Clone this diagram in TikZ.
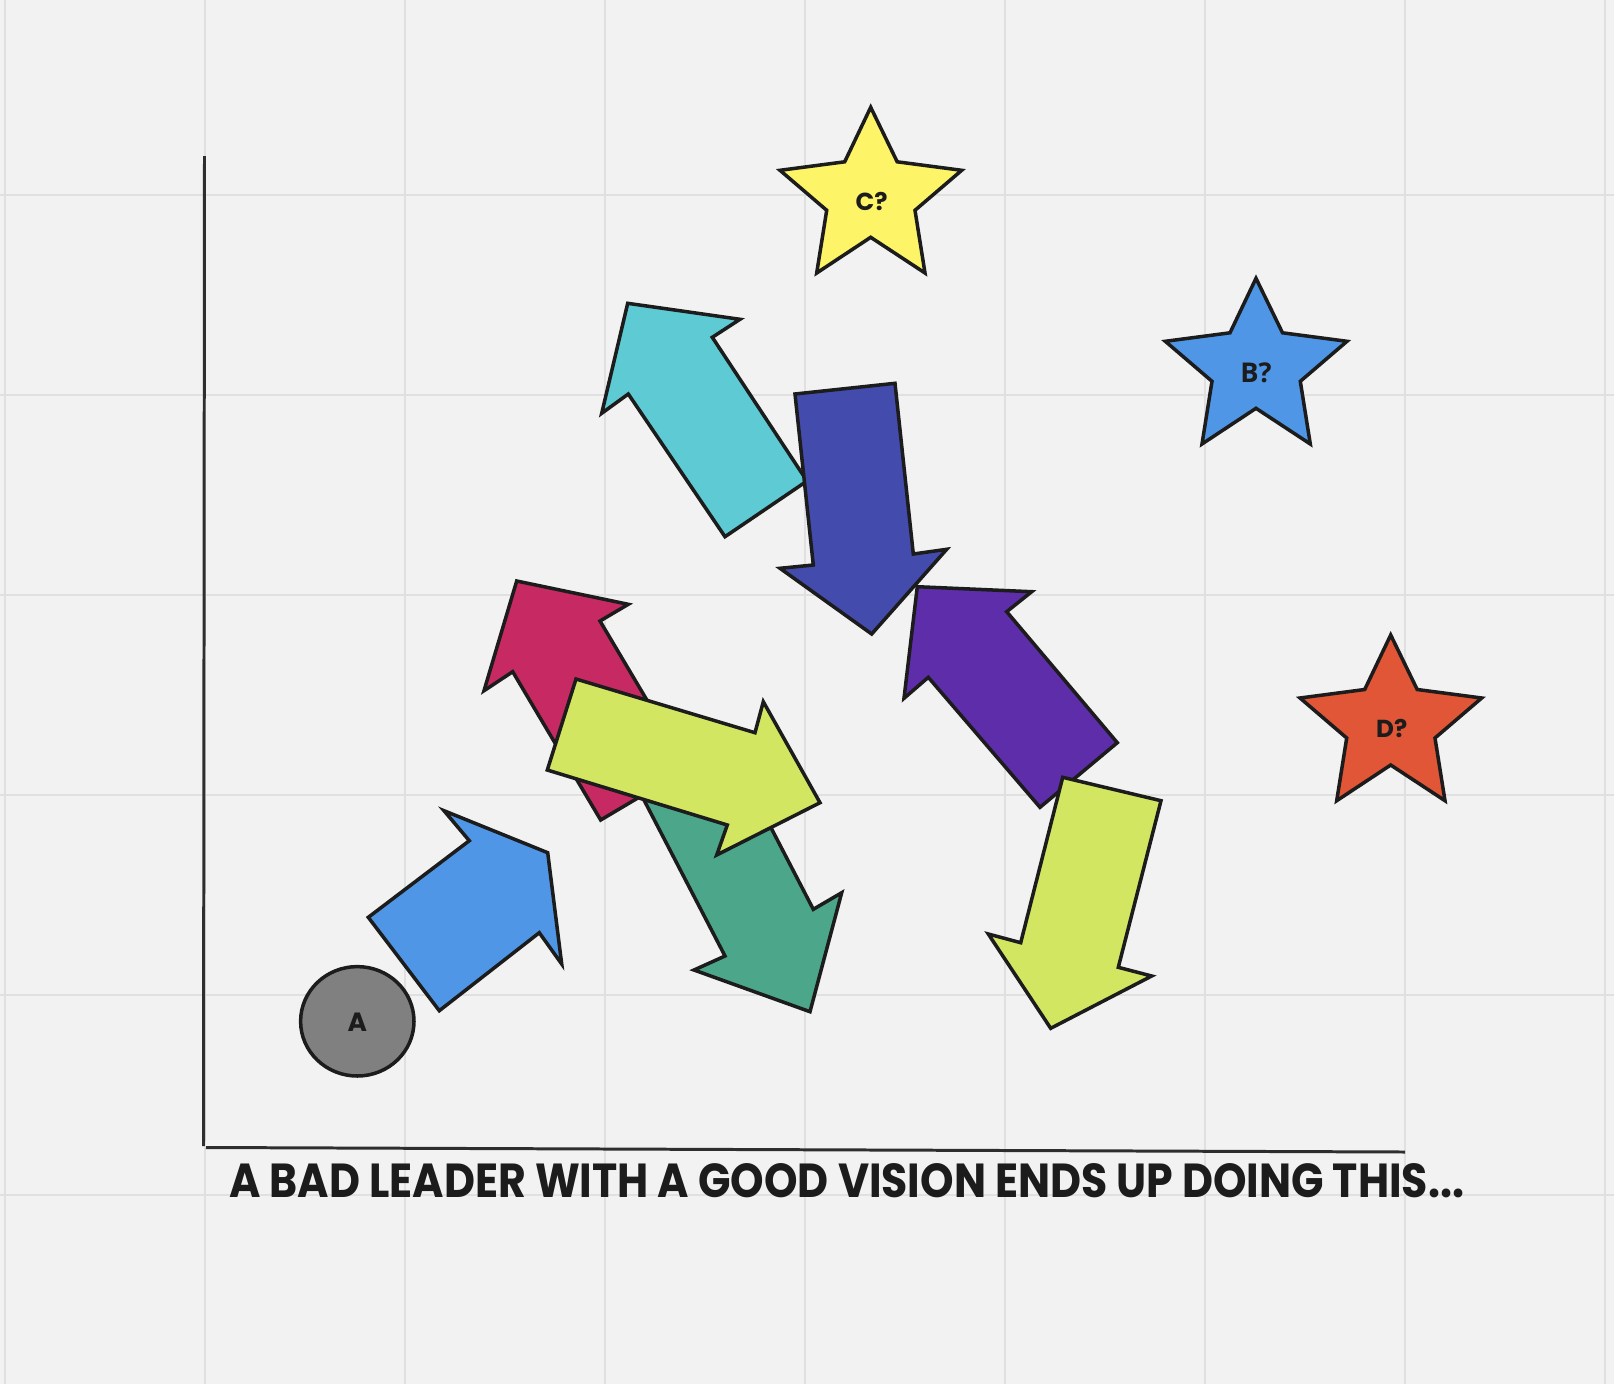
\documentclass[tikz,border=0pt]{standalone}
\usepackage{fontspec}
\setmainfont{Open Sans}
\newfontfamily\handfont{Poppins}
\definecolor{bg}{HTML}{F2F2F2}
\definecolor{gridc}{HTML}{E0E0E0}
\definecolor{outl}{HTML}{1C1C1C}
\definecolor{axisc}{HTML}{2E2E2E}
\definecolor{cyanc}{HTML}{5ECAD3}
\definecolor{indigoc}{HTML}{434CAD}
\definecolor{crimsonc}{HTML}{C72A62}
\definecolor{limec}{HTML}{D3E661}
\definecolor{greenc}{HTML}{4CA68A}
\definecolor{purplec}{HTML}{5E2EAA}
\definecolor{bluec}{HTML}{4F97E6}
\definecolor{grayc}{HTML}{808080}
\definecolor{yellowc}{HTML}{FDF468}
\definecolor{redc}{HTML}{E05637}
\newcommand\mystarshape[3]{%
  \draw[shapeline, fill=#1, shift={(#2,#3)}]
    (0,0) -- (26.5,54.5) -- (91,63) -- (44.3,103) -- (54.3,165.7) -- (0,130)
    -- (-54,165.7) -- (-44,103) -- (-90.7,63) -- (-26,54.5) -- cycle;}
\begin{document}
\begin{tikzpicture}[x=0.02cm,y=-0.02cm,
  shapeline/.style={draw=outl, line width=2pt, line join=miter, miter limit=10},
  gridline/.style={draw=gridc, line width=1.1pt},
  axisline/.style={draw=axisc, line width=1.7pt},
  handlabel/.style={font=\handfont\bfseries, text=outl, inner sep=0pt},
  sanslabel/.style={font=\bfseries, text=outl, inner sep=0pt}]
\useasboundingbox (0,0) rectangle (1614,1384);
\fill[bg] (0,0) rectangle (1614,1384);
\foreach \i in {0,...,8} \draw[gridline] ({5+200*\i},0) -- ({5+200*\i},1384);
\foreach \j in {1,...,6} \draw[gridline] (0,{-5+200*\j}) -- (1614,{-5+200*\j});
% axes
\coordinate (ytop) at (204.5,156);
\coordinate (ybot) at (203.5,1146);
\coordinate (xl) at (206,1147.5);
\coordinate (xr) at (1405,1152);
\draw[axisline] (ytop) -- (ybot);
\draw[axisline] (xl) -- (xr);
% cyan arrow
\draw[shapeline, fill=cyanc] (627.7,303.3) -- (740,319.3) -- (712.3,337.3) -- (807,481)
  -- (725,536.7) -- (628.3,394) -- (601.7,413.3) -- cycle;
% indigo arrow
\draw[shapeline, fill=indigoc] (795,394) -- (895,383.3) -- (913.3,554) -- (946.7,549.3)
  -- (871.7,634) -- (780,568.3) -- (813.3,565) -- cycle;
% purple arrow
\draw[shapeline, fill=purplec] (917.3,586.7) -- (1031.7,591.7) -- (1006.7,611.7) -- (1117.3,742.7)
  -- (1040,807.3) -- (928.3,677.3) -- (904,698.3) -- cycle;
% lime down arrow
\draw[shapeline, fill=limec] (1062.7,777.3) -- (1161,800.7) -- (1118.3,967.3) -- (1151.7,976)
  -- (1050.7,1028.3) -- (988.3,934) -- (1020.7,942.7) -- cycle;
% crimson arrow
\draw[shapeline, fill=crimsonc] (516.7,581) -- (628.3,604.3) -- (600,621) -- (687.5,768.5)
  -- (600.7,820) -- (512.7,671.7) -- (484,690.7) -- cycle;
% green arrow
\draw[shapeline, fill=greenc] (636.2,785) -- (725,739) -- (813.3,909.3) -- (841.7,892.7)
  -- (810,1011.7) -- (694,970) -- (725,956) -- cycle;
% lime right arrow
\draw[shapeline, fill=limec] (576,679) -- (755,732.7) -- (763.3,701.7) -- (820,802.7)
  -- (716.7,855) -- (727.3,825) -- (547.3,770) -- cycle;
% blue arrow
\draw[shapeline, fill=bluec] (368.3,917.3) -- (469.3,840.7) -- (444,810.7) -- (547.7,852.7)
  -- (561.7,964) -- (539.3,932.7) -- (439.3,1010.7) -- cycle;
% circle A
\draw[shapeline, fill=grayc] (357.3,1021.3) ellipse [x radius=56.7, y radius=54.7];
\node[handlabel, font=\handfont\bfseries\fontsize{15}{15}\selectfont] (labA) at (357.3,1022) {A};
% stars
\mystarshape{yellowc}{870.7}{107.3}
\mystarshape{bluec}{1256}{278.3}
\mystarshape{redc}{1390.7}{635}
\node[handlabel, font=\handfont\bfseries\fontsize{14}{14}\selectfont] (labC) at (871.7,201.7) {C?};
\node[sanslabel, font=\bfseries\fontsize{15.5}{15.5}\selectfont] (labB) at (1256,372.7) {B?};
\node[handlabel, font=\handfont\bfseries\fontsize{14}{14}\selectfont] (labD) at (1391.7,728.3) {D?};
% caption
\node[handlabel, anchor=west] (caption) at (229,1181)
  {\resizebox{24.7cm}{0.68cm}{\handfont\bfseries A BAD LEADER WITH A GOOD VISION ENDS UP DOING THIS...}};
\end{tikzpicture}
\end{document}
